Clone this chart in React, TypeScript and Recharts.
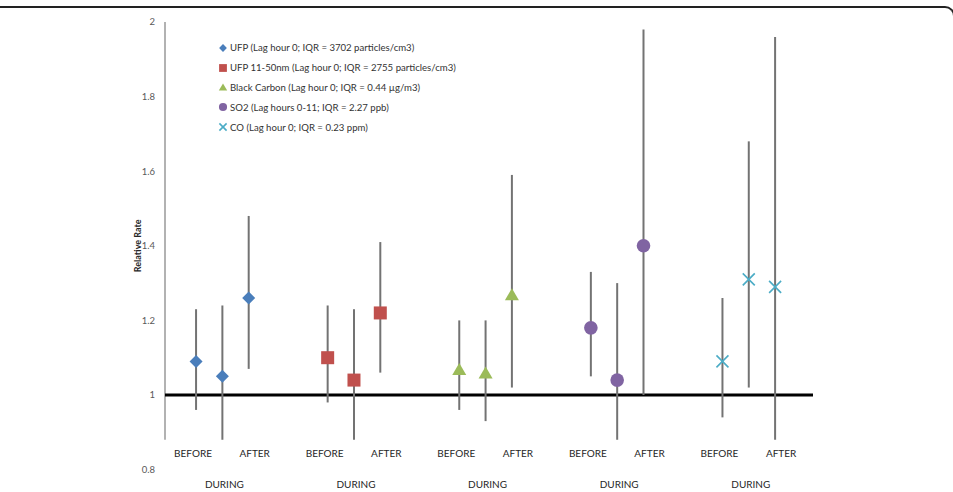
import React from "react";
import {
  ComposedChart,
  Scatter,
  ErrorBar,
  XAxis,
  YAxis,
  ReferenceLine,
} from "recharts";

// periods, in order, within each pollutant group
const periods = ["BEFORE", "DURING", "AFTER"];

const seriesNames = [
  "UFP (Lag hour 0; IQR = 3702 particles/cm3)",
  "UFP 11-50nm (Lag hour 0; IQR = 2755 particles/cm3)",
  "Black Carbon (Lag hour 0; IQR = 0.44 µg/m3)",
  "SO2 (Lag hours 0-11; IQR = 2.27 ppb)",
  "CO (Lag hour 0; IQR = 0.23 ppm)",
];

// relative rate and 95% CI (before, during, after)
const ufpRate = [1.09, 1.05, 1.26];
const ufpLow = [0.96, 0.88, 1.07];
const ufpHigh = [1.23, 1.24, 1.48];

const ufpSmallRate = [1.1, 1.04, 1.22];
const ufpSmallLow = [0.98, 0.88, 1.06];
const ufpSmallHigh = [1.24, 1.23, 1.41];

const bcRate = [1.07, 1.06, 1.27];
const bcLow = [0.96, 0.93, 1.02];
const bcHigh = [1.2, 1.2, 1.59];

const so2Rate = [1.18, 1.04, 1.4];
const so2Low = [1.05, 0.88, 1.0];
const so2High = [1.33, 1.3, 1.98];

const coRate = [1.09, 1.31, 1.29];
const coLow = [0.94, 1.02, 0.88];
const coHigh = [1.26, 1.68, 1.96];

const yTicks = [0.8, 1, 1.2, 1.4, 1.6, 1.8, 2];

const colors = ["#4a7ebb", "#c0504d", "#9bbb59", "#8064a2", "#4bacc6"];
const markerKinds = ["diamond", "square", "triangle", "circle", "x"];

const rates = [ufpRate, ufpSmallRate, bcRate, so2Rate, coRate];
const lows = [ufpLow, ufpSmallLow, bcLow, so2Low, coLow];
const highs = [ufpHigh, ufpSmallHigh, bcHigh, so2High, coHigh];

// each group takes 5 slots: 3 periods + 2 empty
const GROUP = 5;
const X_MIN = -1.18;
const X_MAX = 23.44;

const seriesData = rates.map((r, i) =>
  r.map((v, j) => ({
    x: i * GROUP + j,
    y: v,
    err: [v - lows[i][j], highs[i][j] - v],
    period: periods[j],
  }))
);

const xTicks = seriesData.flatMap((s) => s.map((d) => d.x));

const FONT = "Lato, 'Open Sans', sans-serif";

function Marker({ kind, cx, cy, color, s = 1 }: any) {
  if (kind === "diamond") {
    const r = 6.5 * s;
    return (
      <polygon
        points={`${cx},${cy - r} ${cx + r},${cy} ${cx},${cy + r} ${cx - r},${cy}`}
        fill={color}
      />
    );
  }
  if (kind === "square") {
    const h = 6.5 * s;
    return <rect x={cx - h} y={cy - h} width={h * 2} height={h * 2} fill={color} />;
  }
  if (kind === "triangle") {
    const w = 7 * s;
    const h = 6 * s;
    return (
      <polygon
        points={`${cx},${cy - h} ${cx + w},${cy + h} ${cx - w},${cy + h}`}
        fill={color}
      />
    );
  }
  if (kind === "circle") {
    return <circle cx={cx} cy={cy} r={6.8 * s} fill={color} />;
  }
  const a = 6 * s;
  return (
    <g stroke={color} strokeWidth={1.6}>
      <line x1={cx - a} y1={cy - a} x2={cx + a} y2={cy + a} />
      <line x1={cx - a} y1={cy + a} x2={cx + a} y2={cy - a} />
    </g>
  );
}

function PeriodTick({ x, y, payload }: any) {
  const idx = Math.round(payload.value) % GROUP;
  const label = periods[idx];
  if (!label) return null;
  const low = idx === 1;
  const dx = idx === 2 ? 6 : idx === 1 ? 2 : -3;
  return (
    <text
      x={x + dx}
      y={low ? y + 14.5 : y - 16.5}
      textAnchor="middle"
      dominantBaseline="central"
      fontSize={10}
      fontFamily={FONT}
      fill="#262626"
    >
      {label}
    </text>
  );
}

function LegendBox() {
  return (
    <div
      style={{
        position: "absolute",
        left: 217,
        top: 38,
        fontFamily: FONT,
        fontSize: 9.6,
        color: "#333",
      }}
    >
      {seriesNames.map((name, i) => (
        <div
          key={name}
          style={{ display: "flex", alignItems: "center", height: 19.8, whiteSpace: "nowrap" }}
        >
          <svg width={12} height={12} style={{ marginRight: 1 }}>
            <Marker kind={markerKinds[i]} cx={6} cy={6} color={colors[i]} s={0.6} />
          </svg>
          <span>{name}</span>
        </div>
      ))}
    </div>
  );
}

export default function App() {
  return (
    <div
      style={{
        position: "fixed",
        left: 0,
        top: 0,
        width: 953,
        height: 492,
        background: "#fff",
        overflow: "hidden",
      }}
    >
      <div
        style={{
          position: "absolute",
          left: -6,
          top: 6,
          width: 961,
          height: 520,
          boxSizing: "border-box",
          borderTop: "2px solid #222",
          borderRight: "2px solid #222",
          borderTopRightRadius: 10,
        }}
      />
      <ComposedChart
        width={953}
        height={492}
        margin={{ top: 22, right: 140, bottom: 0, left: 0 }}
        style={{ position: "absolute", left: 0, top: 0 }}
      >
        <XAxis
          type="number"
          dataKey="x"
          domain={[X_MIN, X_MAX]}
          ticks={xTicks}
          interval={0}
          height={22.4}
          axisLine={false}
          tickLine={false}
          tickSize={0}
          tickMargin={0}
          tick={<PeriodTick />}
          allowDataOverflow
        />
        <YAxis
          type="number"
          dataKey="y"
          domain={[0.8, 2]}
          ticks={yTicks}
          width={165}
          axisLine={false}
          tickLine={false}
          tickSize={0}
          tickMargin={10}
          tick={{ fontSize: 9.5, fill: "#595959", fontFamily: FONT }}
          label={{
            value: "Relative Rate",
            angle: -90,
            position: "center",
            dx: 55,
            style: { fontSize: 9, fontWeight: 700, fill: "#262626", fontFamily: FONT },
          }}
        />
        <ReferenceLine
          segment={[
            { x: X_MIN, y: 0.88 },
            { x: X_MIN, y: 2 },
          ]}
          stroke="#999"
          strokeWidth={1.5}
        />
        <ReferenceLine y={1} stroke="#000" strokeWidth={3} />
        {seriesData.map((data, i) => (
          <Scatter
            key={seriesNames[i]}
            name={seriesNames[i]}
            data={data}
            fill={colors[i]}
            isAnimationActive={false}
            shape={(p: any) => (
              <Marker kind={markerKinds[i]} cx={p.cx} cy={p.cy} color={colors[i]} />
            )}
          >
            <ErrorBar
              dataKey="err"
              direction="y"
              width={0}
              stroke="#737373"
              strokeWidth={2}
              isAnimationActive={false}
            />
          </Scatter>
        ))}
      </ComposedChart>
      <LegendBox />
    </div>
  );
}
